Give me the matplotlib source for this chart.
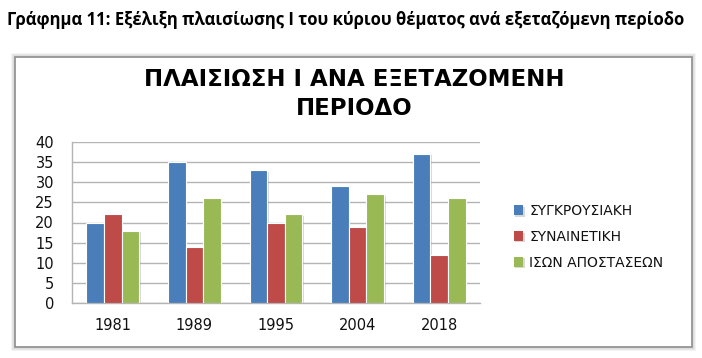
import numpy as np
import matplotlib
matplotlib.use("Agg")
import matplotlib.pyplot as plt
import matplotlib.patheffects as pe
from matplotlib.patches import Rectangle

# Data
years = ["1981", "1989", "1995", "2004", "2018"]
series_names = ["ΣΥΓΚΡΟΥΣΙΑΚΗ", "ΣΥΝΑΙΝΕΤΙΚΗ", "ΙΣΩΝ ΑΠΟΣΤΑΣΕΩΝ"]
conflict = [20, 35, 33, 29, 37]
consensual = [22, 14, 20, 19, 12]
equal_dist = [18, 26, 22, 27, 26]
y_ticks = [0, 5, 10, 15, 20, 25, 30, 35, 40]

colors = ["#4A7EBB", "#BE4B48", "#98B954"]
grid_col = "#B4B4B4"

fig = plt.figure(figsize=(7.02, 3.58), dpi=100)
fig.patch.set_facecolor("white")

# outer caption
fig.text(0.010, 0.944, "Γράφημα 11: Εξέλιξη πλαισίωσης Ι του κύριου θέματος ανά εξεταζόμενη περίοδο",
         family="Open Sans", weight="bold", fontsize=12, ha="left", va="center")

# chart frame with soft shadow
bx, by, bw, bh = 15 / 702, 11 / 358, 677 / 702, 290 / 358
for i, a in enumerate([0.10, 0.14, 0.20]):
    d = (3 - i) / 702
    fig.patches.append(Rectangle((bx - d, by - d * 702 / 358), bw + 2 * d, bh + 2 * d * 702 / 358,
                                 transform=fig.transFigure, facecolor="none",
                                 edgecolor=(0.5, 0.5, 0.5, a), lw=1.2, zorder=-3))
fig.patches.append(Rectangle((bx, by), bw, bh, transform=fig.transFigure,
                             facecolor="white", edgecolor="#8C8C8C", lw=1.2, zorder=-2))

# chart title
fig.text(0.505, 0.779, "ΠΛΑΙΣΙΩΣΗ Ι ΑΝΑ ΕΞΕΤΑΖΟΜΕΝΗ", family="DejaVu Sans", weight="bold",
         fontsize=16.5, ha="center", va="center")
fig.text(0.505, 0.697, "ΠΕΡΙΟΔΟ", family="DejaVu Sans", weight="bold",
         fontsize=16.5, ha="center", va="center")

ax = fig.add_axes([72 / 702, 55 / 358, 408 / 702, 161 / 358])
ax.set_facecolor("none")

x = np.arange(len(years))
bw_bar = 0.215
shadow = [pe.SimplePatchShadow(offset=(1.2, -1.0), shadow_rgbFace="#909090", alpha=0.35), pe.Normal()]
handles = []
for i, (vals, col, name) in enumerate(zip([conflict, consensual, equal_dist], colors, series_names)):
    bars = ax.bar(x + (i - 1) * bw_bar, vals, width=bw_bar, color=col, edgecolor="white",
                  linewidth=0.8, label=name, zorder=3)
    for b in bars:
        b.set_path_effects(shadow)
    handles.append(bars)

ax.set_xlim(-0.5, len(years) - 0.5)
ax.set_ylim(0, 40)
ax.set_yticks(y_ticks)
ax.set_xticks(x)
ax.set_xticklabels(years)
ax.yaxis.grid(True, color=grid_col, lw=1, zorder=0)
ax.set_axisbelow(True)
for s in ["top", "right"]:
    ax.spines[s].set_visible(False)
for s in ["left", "bottom"]:
    ax.spines[s].set_color(grid_col)
    ax.spines[s].set_linewidth(1)
ax.tick_params(length=0, labelsize=10.5, colors="#111111")
ax.tick_params(axis="y", pad=13)
ax.tick_params(axis="x", pad=11)

leg = fig.legend(handles=handles, labels=series_names, loc="center left",
                 bbox_to_anchor=(501 / 702, 1 - 237 / 358), frameon=False,
                 fontsize=10, handlelength=0.7, handleheight=0.7, handletextpad=0.45,
                 labelspacing=0.85)
for h in leg.legend_handles:
    h.set_edgecolor("none")
for t in leg.get_texts():
    t.set_color("#111111")

fig.savefig("out.png", dpi=100, facecolor="white")
